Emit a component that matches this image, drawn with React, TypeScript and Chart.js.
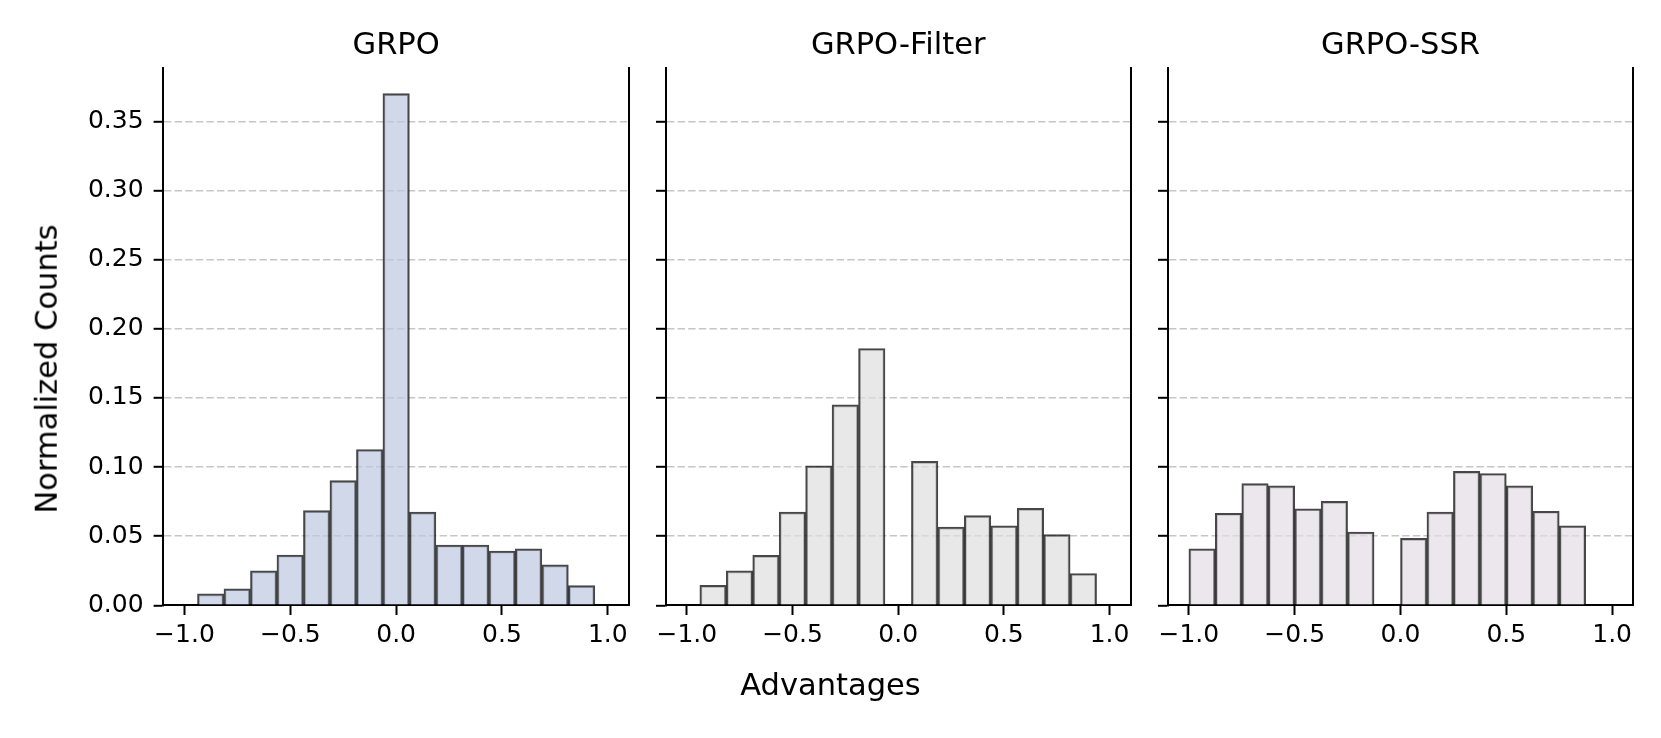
import React, { useEffect, useRef } from 'react';
import { Chart, registerables } from 'chart.js';

Chart.register(...registerables);

// ---------------- data ----------------
const panelTitles = ['GRPO', 'GRPO-Filter', 'GRPO-SSR'];

// histogram bin centres (Advantages)
const binCentersGRPO = [-0.876, -0.7509, -0.6257, -0.5006, -0.3754, -0.2503, -0.1251, 0, 0.1251, 0.2503, 0.3754, 0.5006, 0.6257, 0.7509, 0.876];
const binCentersFilter = [-0.876, -0.7509, -0.6257, -0.5006, -0.3754, -0.2503, -0.1251, 0, 0.1251, 0.2503, 0.3754, 0.5006, 0.6257, 0.7509, 0.876];
const binCentersSSR = [-0.9375, -0.8125, -0.6875, -0.5625, -0.4375, -0.3125, -0.1875, -0.0625, 0.0625, 0.1875, 0.3125, 0.4375, 0.5625, 0.6875, 0.8125];

// normalized counts
const grpoCounts = [0.0083, 0.012, 0.0249, 0.0364, 0.0685, 0.0902, 0.1127, 0.37, 0.0674, 0.0436, 0.0436, 0.0393, 0.0409, 0.0292, 0.0142];
const filterCounts = [0.0144, 0.0249, 0.0361, 0.0674, 0.1009, 0.145, 0.1857, 0, 0.1041, 0.0565, 0.0648, 0.0575, 0.0701, 0.0511, 0.023];
const ssrCounts = [0.0409, 0.0666, 0.088, 0.0864, 0.0698, 0.0752, 0.053, 0, 0.0484, 0.0674, 0.0969, 0.0953, 0.0864, 0.068, 0.0575];

// tick labels
const xTickValues = [-1.0, -0.5, 0.0, 0.5, 1.0];
const yTickValues = [0, 0.05, 0.1, 0.15, 0.2, 0.25, 0.3, 0.35];

const xLabel = 'Advantages';
const yLabel = 'Normalized Counts';

// ---------------- styling / layout ----------------
const W = 1661;
const H = 738;
const FONT = "'DejaVu Sans', 'Liberation Sans', sans-serif";
const X_MIN = -1.1;
const X_MAX = 1.1;
const Y_MAX = 0.3885;

const fills = ['rgba(188,200,223,0.7)', 'rgba(222,222,222,0.7)', 'rgba(226,221,230,0.7)'];
const edgeColor = 'rgba(25,25,25,0.8)';
const gridColor = 'rgba(128,128,128,0.45)';

const panelLeft = [163.3, 665.7, 1167.7];
const panelRight = [629, 1130.7, 1633.3];
const AREA_TOP = 68.1;
const AREA_BOTTOM = 605.3;
const Y_AXIS_W = 100;
const X_AXIS_H = 60;
const TITLE_PAD_TOP = 27.5;
const TITLE_LINE = 36.6;

const centersList = [binCentersGRPO, binCentersFilter, binCentersSSR];
const countsList = [grpoCounts, filterCounts, ssrCounts];

const fmt = (v: number, d: number) => {
  const s = Math.abs(v).toFixed(d);
  return v < -1e-9 ? '\u2212' + s : s;
};

function Panel({ idx }: { idx: number }) {
  const ref = useRef<HTMLCanvasElement | null>(null);
  useEffect(() => {
    const canvas = ref.current;
    if (!canvas) return;
    const L = panelLeft[idx];
    const R = panelRight[idx];
    const centers = centersList[idx];
    const counts = countsList[idx];
    const tickFont = { family: FONT, size: 25, lineHeight: 1.2 };
    const chart = new Chart(canvas, {
      type: 'bar',
      data: {
        datasets: [
          {
            data: centers.map((c, i) => ({ x: c, y: counts[i] })),
            backgroundColor: fills[idx],
            borderColor: edgeColor,
            borderWidth: 2,
            borderSkipped: 'start',
            barPercentage: 1,
            categoryPercentage: 1,
          } as any,
        ],
      },
      options: {
        responsive: false,
        animation: false,
        devicePixelRatio: 1,
        events: [],
        layout: {
          padding: {
            left: L - Y_AXIS_W,
            right: W - R,
            top: 0,
            bottom: H - AREA_BOTTOM - X_AXIS_H,
          },
        },
        plugins: {
          legend: { display: false },
          tooltip: { enabled: false },
          title: {
            display: true,
            text: panelTitles[idx],
            color: '#000',
            fullSize: false,
            font: { family: FONT, size: 30.5, weight: 'normal', lineHeight: 1.2 },
            padding: { top: TITLE_PAD_TOP, bottom: AREA_TOP - TITLE_PAD_TOP - TITLE_LINE },
          },
        },
        scales: {
          x: {
            type: 'linear',
            min: X_MIN,
            max: X_MAX,
            offset: false,
            afterBuildTicks: (s: any) => {
              s.ticks = xTickValues.map((v) => ({ value: v }));
            },
            afterFit: (s: any) => {
              s.height = X_AXIS_H;
            },
            grid: {
              display: true,
              offset: false,
              drawOnChartArea: false,
              drawTicks: true,
              tickLength: 9.7,
              tickColor: '#000',
              tickWidth: 2,
              tickBorderDash: [],
            },
            border: { display: true, color: '#000', width: 2 },
            ticks: {
              color: '#000',
              font: tickFont,
              padding: 5,
              maxRotation: 0,
              autoSkip: false,
              callback: (v: any) => fmt(Number(v), 1),
            },
          },
          y: {
            type: 'linear',
            min: 0,
            max: Y_MAX,
            afterBuildTicks: (s: any) => {
              s.ticks = yTickValues.map((v) => ({ value: v }));
            },
            afterFit: (s: any) => {
              s.width = Y_AXIS_W;
            },
            grid: {
              display: true,
              drawOnChartArea: true,
              drawTicks: true,
              color: (ctx: any) => (ctx.tick && ctx.tick.value === 0 ? 'rgba(0,0,0,0)' : gridColor),
              lineWidth: 1.6,
              tickLength: 9.7,
              tickColor: '#000',
              tickWidth: 2,
              tickBorderDash: [],
            },
            border: { display: true, color: '#000', width: 2, dash: [7.4, 3.2] },
            ticks: {
              color: '#000',
              font: tickFont,
              padding: 10,
              autoSkip: false,
              callback: (v: any) => (idx === 0 ? fmt(Number(v), 2) : ''),
            },
          },
          y2: {
            type: 'linear',
            position: 'right',
            min: 0,
            max: 1,
            grid: { display: false, drawTicks: false },
            ticks: { display: false },
            border: { display: true, color: '#000', width: 2 },
            afterFit: (s: any) => {
              s.width = 0;
            },
          },
        },
      } as any,
    });
    return () => chart.destroy();
  }, [idx]);
  return (
    <canvas
      ref={ref}
      width={W}
      height={H}
      style={{ position: 'absolute', left: 0, top: 0, width: W, height: H, pointerEvents: 'none' }}
    />
  );
}

export default function App() {
  return (
    <div
      style={{
        position: 'absolute',
        left: 0,
        top: 0,
        width: W,
        height: H,
        background: '#fff',
        overflow: 'hidden',
        fontFamily: FONT,
      }}
    >
      {[0, 1, 2].map((i) => (
        <Panel key={i} idx={i} />
      ))}
      <div
        style={{
          position: 'absolute',
          left: 830.5,
          top: 684.5,
          transform: 'translate(-50%, -50%)',
          fontSize: 30.5,
          lineHeight: 1,
          whiteSpace: 'nowrap',
          color: '#000',
        }}
      >
        {xLabel}
      </div>
      <div
        style={{
          position: 'absolute',
          left: 46.8,
          top: 368.5,
          transform: 'translate(-50%, -50%) rotate(-90deg)',
          fontSize: 30.5,
          lineHeight: 1,
          whiteSpace: 'nowrap',
          color: '#000',
        }}
      >
        {yLabel}
      </div>
    </div>
  );
}
